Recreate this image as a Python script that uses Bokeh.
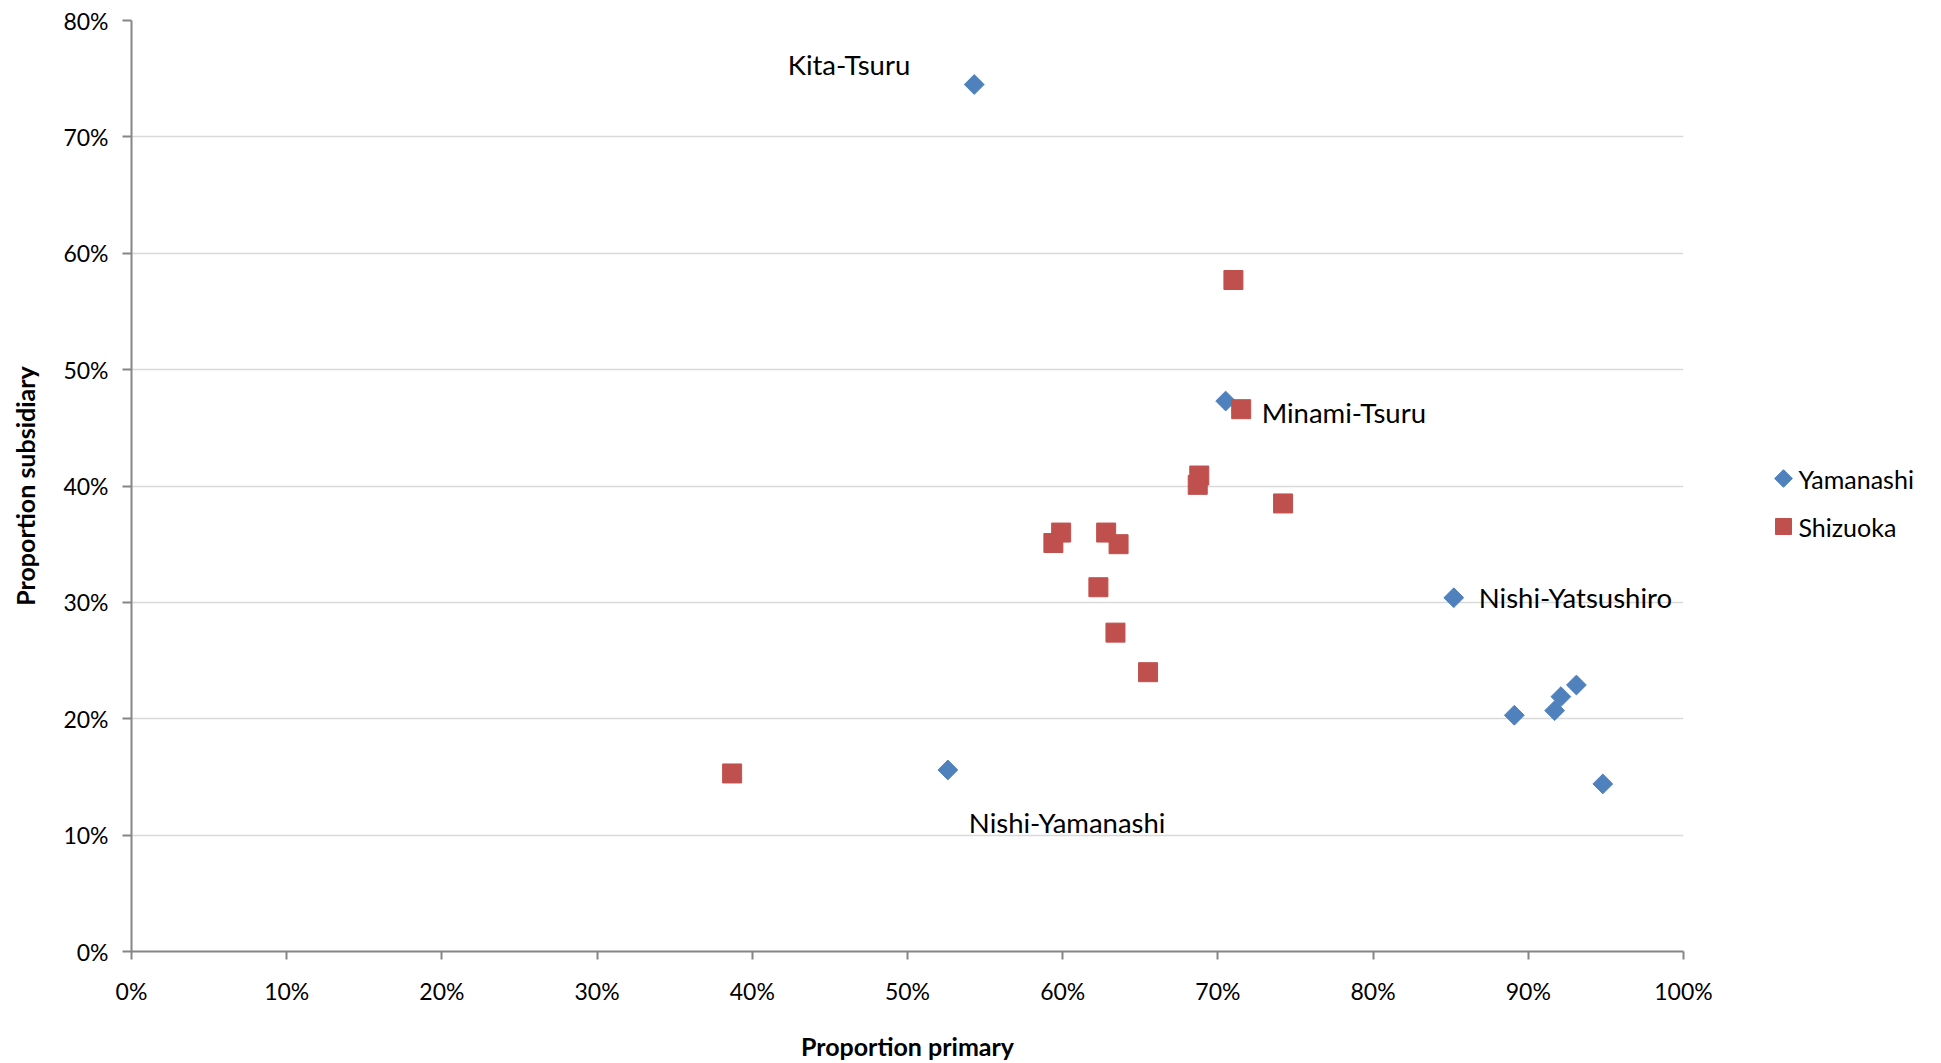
import numpy as np
from bokeh.plotting import figure
from bokeh.layouts import row
from bokeh.models import (ColumnDataSource, FixedTicker, NumeralTickFormatter,
                          Range1d, LabelSet)
from bokeh.core.properties import value
from bokeh.embed import file_html
from bokeh.resources import INLINE

# --- data: share of primary vs subsidiary occupation by district ---
yamanashi_names = ["Kita-Tsuru", "Minami-Tsuru", "Nishi-Yatsushiro", "Nishi-Yamanashi",
                   "", "", "", "", ""]
yamanashi_primary = [0.543, 0.705, 0.852, 0.526, 0.891, 0.917, 0.921, 0.931, 0.948]
yamanashi_subsidiary = [0.745, 0.473, 0.304, 0.156, 0.203, 0.207, 0.219, 0.229, 0.144]

shizuoka_primary = [0.710, 0.715, 0.688, 0.687, 0.742, 0.599, 0.594, 0.628, 0.636,
                    0.623, 0.634, 0.655, 0.387]
shizuoka_subsidiary = [0.577, 0.466, 0.409, 0.401, 0.385, 0.360, 0.351, 0.360, 0.350,
                       0.313, 0.274, 0.240, 0.153]

series_names = ["Yamanashi", "Shizuoka"]
x_ticks = [i / 10 for i in range(11)]
y_ticks = [i / 10 for i in range(9)]

FONT = "Lato"
BLUE = "#4F81BD"
RED = "#C0504D"
H = 1063
TOP, BOTTOM = 20, 112

# main scatter panel
p = figure(width=1723, height=H, output_backend="svg", toolbar_location=None,
           x_range=Range1d(0, 1), y_range=Range1d(0, 0.8),
           min_border_left=131, min_border_right=40,
           min_border_top=TOP, min_border_bottom=BOTTOM)
p.outline_line_color = None
p.background_fill_color = "white"
p.border_fill_color = "white"

for ax in (p.xaxis[0], p.yaxis[0]):
    ax.axis_line_color = "#868686"
    ax.axis_line_width = 2
    ax.major_tick_line_color = "#868686"
    ax.major_tick_line_width = 2
    ax.major_tick_in = 0
    ax.minor_tick_line_color = None
    ax.major_label_text_font = FONT
    ax.major_label_text_font_size = "23px"
    ax.major_label_text_color = "black"
    ax.axis_label_text_font = FONT
    ax.axis_label_text_font_style = "bold"
    ax.axis_label_text_font_size = "25px"
    ax.axis_label_text_color = "black"
    ax.formatter = NumeralTickFormatter(format="0%")

p.xaxis.ticker = FixedTicker(ticks=x_ticks)
p.yaxis.ticker = FixedTicker(ticks=y_ticks)
p.xaxis.axis_label = "Proportion primary"
p.yaxis.axis_label = "Proportion subsidiary"
p.xaxis.major_tick_out = 8
p.yaxis.major_tick_out = 9
p.xaxis.major_label_standoff = 17
p.yaxis.major_label_standoff = 14
p.xaxis.axis_label_standoff = 23
p.yaxis.axis_label_standoff = 20

p.xgrid.grid_line_color = None
p.ygrid.grid_line_color = "#d9d9d9"
p.ygrid.grid_line_width = 1.5

yam_src = ColumnDataSource(dict(x=yamanashi_primary, y=yamanashi_subsidiary,
                                name=yamanashi_names))
shz_src = ColumnDataSource(dict(x=shizuoka_primary, y=shizuoka_subsidiary))

# Yamanashi uses a square turned 45 degrees (a true diamond), Shizuoka a square
yam_style = dict(marker="square", angle=np.pi / 4, fill_color=BLUE, line_color=BLUE,
                 line_width=1)
shz_style = dict(marker="square", fill_color=RED, line_color=RED, line_width=1)

p.scatter("x", "y", source=yam_src, size=14, **yam_style)
p.scatter("x", "y", source=shz_src, size=19, **shz_style)

# district labels, each placed relative to its own point
offsets = {
    "Kita-Tsuru": ("right", -64, 20),
    "Minami-Tsuru": ("left", 36, -11),
    "Nishi-Yatsushiro": ("left", 25, 0),
    "Nishi-Yamanashi": ("left", 21, -53),
}
for name, (align, dx, dy) in offsets.items():
    i = yamanashi_names.index(name)
    src = ColumnDataSource(dict(x=[yamanashi_primary[i]], y=[yamanashi_subsidiary[i]],
                                t=[name]))
    p.add_layout(LabelSet(x="x", y="y", text="t", source=src,
                          x_offset=dx, y_offset=dy,
                          text_font=value(FONT), text_font_size="27.5px",
                          text_color="black", text_align=align,
                          text_baseline="middle"))

# legend panel to the right of the plot area; its frame lines up with the main
# frame inside the row, so its y range is given in page pixels of that frame
q = figure(width=218, height=H, output_backend="svg", toolbar_location=None,
           x_range=Range1d(0, 218), y_range=Range1d(H - BOTTOM, TOP),
           x_axis_type=None, y_axis_type=None, min_border=0,
           min_border_top=TOP, min_border_bottom=BOTTOM)
q.grid.visible = False
q.outline_line_color = None
q.background_fill_color = "white"
q.border_fill_color = "white"

key_x, key_y, row_gap, text_gap = 60, 478, 48, 15
q.scatter(x=[key_x], y=[key_y], size=12.5, **yam_style)
q.scatter(x=[key_x], y=[key_y + row_gap], size=16, **shz_style)
q.text(x=[key_x + text_gap] * 2, y=[key_y, key_y + row_gap], text=series_names,
       text_font=value(FONT), text_font_size=value("25px"), text_color="black",
       text_align="left", text_baseline="middle")

layout = row(p, q, spacing=0)
open("out.html", "w").write(file_html(layout, INLINE))
